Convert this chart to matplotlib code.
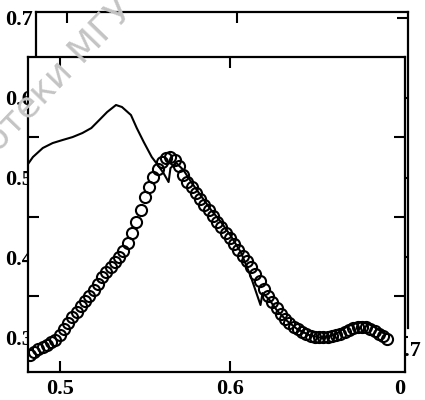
import numpy as np
import matplotlib.pyplot as plt

# =====================================
# Data
# =====================================
# open circles: sampled on a regular wavelength grid
wavelength = [0.4825, 0.485, 0.4875, 0.49, 0.4925, 0.495, 0.4975, 0.5, 0.5025, 0.505,
              0.5075, 0.51, 0.5125, 0.515, 0.5175, 0.52, 0.5225, 0.525, 0.5275, 0.53,
              0.5325, 0.535, 0.5375, 0.54, 0.5425, 0.545, 0.5475, 0.55, 0.5525, 0.555,
              0.5575, 0.56, 0.5625, 0.565, 0.5675, 0.57, 0.5725, 0.575, 0.5775, 0.58,
              0.5825, 0.585, 0.5875, 0.59, 0.5925, 0.595, 0.5975, 0.6, 0.6025, 0.605,
              0.6075, 0.61, 0.6125, 0.615, 0.6175, 0.62, 0.6225, 0.625, 0.6275, 0.63,
              0.6325, 0.635, 0.6375, 0.64, 0.6425, 0.645, 0.6475, 0.65, 0.6525, 0.655,
              0.6575, 0.66, 0.6625, 0.665, 0.6675, 0.67, 0.6725, 0.675, 0.6775, 0.68,
              0.6825, 0.685, 0.6875, 0.69, 0.6925]
measured = [0.2765, 0.2803, 0.2840, 0.2865, 0.2890, 0.2928, 0.2953, 0.3016, 0.3091, 0.3166,
            0.3241, 0.3304, 0.3379, 0.3442, 0.3505, 0.3580, 0.3655, 0.3743, 0.3806, 0.3868,
            0.3931, 0.3994, 0.4069, 0.4169, 0.4295, 0.4433, 0.4583, 0.4746, 0.4871, 0.4997,
            0.5097, 0.5185, 0.5235, 0.5248, 0.5210, 0.5135,
            0.5022, 0.4934, 0.4871, 0.4796, 0.4721, 0.4646, 0.4583, 0.4508, 0.4433, 0.4370,
            0.4295, 0.4232, 0.4157, 0.4082, 0.4006, 0.3944, 0.3868, 0.3781, 0.3693, 0.3592,
            0.3505, 0.3429, 0.3354, 0.3279, 0.3216, 0.3166, 0.3116, 0.3091, 0.3053, 0.3028,
            0.3003, 0.2991, 0.2991, 0.2991, 0.2991, 0.3003, 0.3016, 0.3028, 0.3053, 0.3078,
            0.3103, 0.3116, 0.3116, 0.3116, 0.3091, 0.3066, 0.3028, 0.3003, 0.2966]

# solid curve
curve_x = [0.4814, 0.4843, 0.4901, 0.4959, 0.5017, 0.5076, 0.5134, 0.5186, 0.5233, 0.5279,
           0.5331, 0.5366, 0.5419, 0.5453, 0.5494, 0.5541, 0.5581, 0.5610, 0.5640, 0.5651,
           0.5686, 0.5727, 0.5773, 0.5831, 0.5890, 0.5948, 0.6006, 0.6064, 0.6122, 0.6180,
           0.6192, 0.6233, 0.6279, 0.6337, 0.6395, 0.6465, 0.6541, 0.6616, 0.6674, 0.6721,
           0.6767, 0.6814, 0.6860, 0.6901]
curve_y = [0.5160, 0.5248, 0.5361, 0.5423, 0.5461, 0.5498, 0.5549, 0.5611, 0.5712, 0.5812,
           0.5900, 0.5875, 0.5774, 0.5611, 0.5436, 0.5248, 0.5135, 0.5047, 0.4934, 0.5110,
           0.5172, 0.5085, 0.4934, 0.4759, 0.4583, 0.4433, 0.4257, 0.4056, 0.3755, 0.3392,
           0.3542, 0.3455, 0.3317, 0.3191, 0.3091, 0.3016, 0.2978, 0.3016, 0.3103, 0.3154,
           0.3179, 0.3154, 0.3103, 0.3041]

back_yticks = [0.3, 0.4, 0.5, 0.6, 0.7]
front_xticks = [0.5, 0.6]
front_yticks = [0.35, 0.45, 0.55]

# =====================================
# Figure
# =====================================
W, H = 425, 400
fig = plt.figure(figsize=(W / 100, H / 100), dpi=100)
plt.rcParams['font.family'] = ['Liberation Serif', 'DejaVu Serif']
font_kw = dict(fontsize=16, fontweight='bold')


def box(left, top, right, bottom):
    return [left / W, 1 - bottom / H, (right - left) / W, (bottom - top) / H]


# panel behind (mostly hidden)
ax_back = fig.add_axes(box(36, 12, 408, 338), zorder=1)
ax_back.set_xlim(0.48176, 0.70059)
ax_back.set_ylim(0.29875, 0.70752)
for s in ax_back.spines.values():
    s.set_linewidth(1.6)
ax_back.spines['bottom'].set_visible(False)
ax_back.spines['right'].set_bounds(0.3113, 0.70752)
ax_back.set_yticks(back_yticks)
ax_back.set_yticklabels([f'{v:.1f}' for v in back_yticks], **font_kw)
ax_back.set_xticks(front_xticks)
ax_back.set_xticklabels([])
ax_back.set_xticks([0.7], minor=True)
ax_back.set_xticklabels(['0.7'], minor=True, **font_kw)
ax_back.tick_params(axis='y', left=False, right=True, direction='in', length=8, width=1.5, pad=2)
ax_back.tick_params(axis='x', which='major', top=True, bottom=False, direction='in',
                    length=8, width=1.5)
ax_back.tick_params(axis='x', which='minor', length=0, pad=2)

# front panel with the data
ax = fig.add_axes(box(28, 57, 405, 372), zorder=2)
ax.set_xlim(0.4814, 0.7029)
ax.set_ylim(0.2552, 0.6502)
for s in ax.spines.values():
    s.set_linewidth(1.6)

ax.plot(curve_x, curve_y, color='black', lw=1.5, zorder=3)
ax.plot(wavelength, measured, linestyle='none', marker='o', markersize=8,
        markerfacecolor='none', markeredgecolor='black', markeredgewidth=1.5, zorder=4)

ax.set_xticks(front_xticks)
ax.set_xticklabels(['0.5', '0.6'], **font_kw)
ax.set_xticks([0.7], minor=True)
ax.set_xticklabels(['0'], minor=True, **font_kw)
ax.set_yticks(front_yticks)
ax.set_yticklabels([])
ax.tick_params(axis='x', which='major', top=True, bottom=True, direction='in',
               length=8, width=1.5, pad=5)
ax.tick_params(axis='x', which='minor', length=0, pad=5)
ax.tick_params(axis='y', left=True, right=True, direction='in', length=8, width=1.5)

# library watermark on the scan
fig.text(-2 / W, 1 - 153 / H, 'отеки МГУ', rotation=46, rotation_mode='anchor',
         ha='left', va='baseline', fontsize=26, color='#c4c4c4',
         family=['DejaVu Sans'], zorder=10)

plt.savefig('out.png', dpi=100)
